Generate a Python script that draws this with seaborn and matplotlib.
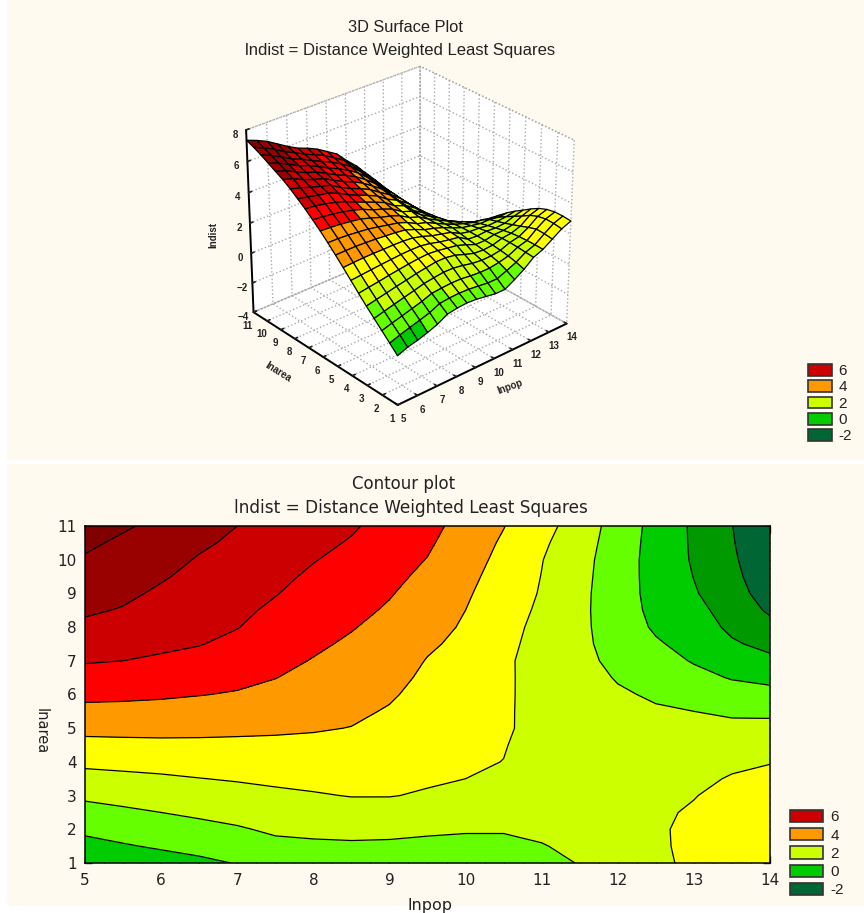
import seaborn as sns
import matplotlib
matplotlib.use("Agg")
import matplotlib.pyplot as plt
import numpy as np
from matplotlib.colors import ListedColormap, BoundaryNorm
from matplotlib.patches import Patch, Rectangle

lnpop = [5, 5.5, 6, 6.5, 7, 7.5, 8, 8.5, 9, 9.5, 10, 10.5, 11, 11.5, 12, 12.5, 13, 13.5, 14]
lnarea = [1, 1.5, 2, 2.5, 3, 3.5, 4, 4.5, 5, 5.5, 6, 6.5, 7, 7.5, 8, 8.5, 9, 9.5, 10, 10.5, 11]

# lndist, one list per lnarea value
area_1 = [-.8, -.55, -.4, -.2, .04, .4, .5, .55, .5, .4, .3, .3, .65, 1.05, 1.55, 1.8, 2.2, 2.6, 2.85]
area_1h = [-.3, -.08, .11, .29, .48, .78, .85, .88, .85, .78, .7, .7, .95, 1.22, 1.6, 1.82, 2.27, 2.68, 2.9]
area_2 = [.19, .38, .55, .73, .91, 1.14, 1.2, 1.24, 1.23, 1.15, 1.1, 1.1, 1.2, 1.35, 1.65, 1.82, 2.3, 2.7, 2.9]
area_2h = [.67, .84, 1.0, 1.16, 1.31, 1.48, 1.57, 1.65, 1.64, 1.54, 1.4, 1.33, 1.34, 1.44, 1.68, 1.8, 2.14, 2.6, 2.8]
area_3 = [1.16, 1.3, 1.43, 1.57, 1.69, 1.83, 1.93, 2.03, 2.03, 1.92, 1.7, 1.5, 1.45, 1.5, 1.68, 1.75, 1.95, 2.4, 2.6]
area_3h = [1.68, 1.78, 1.87, 1.98, 2.07, 2.16, 2.23, 2.27, 2.21, 2.1, 2.0, 1.78, 1.53, 1.53, 1.65, 1.66, 1.77, 2.08, 2.3]
area_4 = [2.21, 2.27, 2.33, 2.39, 2.44, 2.49, 2.51, 2.5, 2.39, 2.22, 2.1, 1.99, 1.6, 1.55, 1.6, 1.55, 1.6, 1.8, 1.95]
area_4h = [2.74, 2.78, 2.81, 2.82, 2.81, 2.82, 2.8, 2.74, 2.57, 2.35, 2.2, 2.04, 1.7, 1.56, 1.52, 1.43, 1.45, 1.5, 1.62]
area_5 = [3.25, 3.26, 3.26, 3.23, 3.19, 3.13, 3.07, 2.98, 2.75, 2.47, 2.3, 2.08, 1.8, 1.55, 1.42, 1.3, 1.3, 1.2, 1.25]
area_5h = [3.75, 3.74, 3.7, 3.63, 3.56, 3.43, 3.29, 3.16, 2.93, 2.59, 2.4, 2.09, 1.78, 1.5, 1.28, 1.1, 1.0, .87, .82]
area_6 = [4.22, 4.18, 4.12, 4.03, 3.93, 3.73, 3.51, 3.34, 3.1, 2.72, 2.5, 2.1, 1.77, 1.45, 1.12, .88, .62, .4, .28]
area_6h = [4.65, 4.59, 4.5, 4.38, 4.22, 4.02, 3.73, 3.52, 3.26, 2.84, 2.6, 2.11, 1.75, 1.38, .93, .62, .27, -.06, -.23]
area_7 = [5.07, 5.0, 4.88, 4.72, 4.5, 4.22, 3.96, 3.7, 3.42, 2.96, 2.7, 2.12, 1.72, 1.3, .72, .37, -.07, -.45, -.78]
area_7h = [5.44, 5.31, 5.16, 5.04, 4.78, 4.43, 4.14, 3.88, 3.58, 3.12, 2.8, 2.18, 1.76, 1.24, .58, .1, -.3, -.88, -1.27]
area_8 = [5.81, 5.62, 5.4, 5.21, 5.03, 4.63, 4.32, 4.05, 3.74, 3.3, 2.9, 2.25, 1.8, 1.22, .5, -.12, -.5, -1.2, -1.7]
area_8h = [6.13, 5.94, 5.63, 5.39, 5.19, 4.84, 4.5, 4.23, 3.9, 3.46, 3.0, 2.37, 1.86, 1.22, .45, -.24, -.72, -1.38, -2.15]
area_9 = [6.39, 6.18, 5.86, 5.57, 5.35, 5.04, 4.68, 4.4, 4.06, 3.63, 3.12, 2.5, 1.93, 1.25, .42, -.3, -.92, -1.55, -2.5]
area_9h = [6.66, 6.41, 6.09, 5.75, 5.52, 5.2, 4.86, 4.57, 4.22, 3.8, 3.25, 2.62, 1.98, 1.3, .43, -.33, -1.02, -1.68, -2.78]
area_10 = [6.92, 6.64, 6.3, 5.93, 5.68, 5.35, 5.04, 4.75, 4.38, 3.97, 3.38, 2.75, 2.03, 1.35, .45, -.35, -1.1, -1.8, -3.0]
area_10h = [7.15, 6.86, 6.55, 6.14, 5.84, 5.5, 5.22, 4.93, 4.54, 4.13, 3.5, 2.88, 2.15, 1.46, .5, -.33, -1.13, -1.9, -3.17]
area_11 = [7.35, 7.1, 6.8, 6.4, 6.0, 5.65, 5.4, 5.1, 4.7, 4.3, 3.63, 3.03, 2.3, 1.6, .55, -.3, -1.15, -1.97, -3.3]

band_edges = [-10, -2, -1, 0, 1, 2, 3, 4, 5, 6, 7, 10]
band_colors = ["#006633", "#009900", "#00CC00", "#66FF00", "#CCFF00", "#FFFF00",
               "#FF9900", "#FF0000", "#CC0000", "#990000", "#800000"]
line_levels = [-2, -1, 0, 1, 2, 3, 4, 5, 6, 7]

legend_labels = ["6", "4", "2", "0", "-2"]
legend_colors = ["#CC0000", "#FF9900", "#CCFF00", "#00CC00", "#006633"]

CREAM = "#FFFAF0"
W, H = 864, 913

sns.set_theme(style="ticks")
plt.rcParams["font.family"] = ["Liberation Sans", "DejaVu Sans"]
plt.rcParams["text.color"] = "#222222"

Z = np.array([area_1, area_1h, area_2, area_2h, area_3, area_3h, area_4, area_4h, area_5, area_5h, area_6,
              area_6h, area_7, area_7h, area_8, area_8h, area_9, area_9h, area_10, area_10h, area_11])
X, Y = np.meshgrid(lnpop, lnarea)
cmap = ListedColormap(sns.color_palette(band_colors))
norm = BoundaryNorm(band_edges, cmap.N)

fig = plt.figure(figsize=(W / 100, H / 100), dpi=100, facecolor="white")
fig.patches.append(Rectangle((7 / W, 1 - 460 / H), (W - 7) / W, 460 / H, transform=fig.transFigure,
                             facecolor=CREAM, edgecolor="none", zorder=-5))
fig.patches.append(Rectangle((7 / W, 1 - 906 / H), (W - 7) / W, 442 / H, transform=fig.transFigure,
                             facecolor=CREAM, edgecolor="none", zorder=-5))

# surface
ax3 = fig.add_axes([159 / W, 1 - 434 / H, 490 / W, 400 / H], projection="3d")
ax3.patch.set_alpha(0)
ax3.plot_surface(X, Y, Z, cmap=cmap, norm=norm, rstride=1, cstride=1, edgecolor="black",
                 linewidth=0.9, shade=False, antialiased=True)
ax3.set_xlim(5, 14)
ax3.set_ylim(1, 11)
ax3.set_zlim(-4, 8)
ax3.set_xticks(range(5, 15))
ax3.set_yticks(range(1, 12))
ax3.set_zticks(range(-4, 9, 2))
ax3.set_box_aspect((1, 1, 0.92), zoom=0.93)
ax3.view_init(elev=29, azim=-131)
ax3.set_proj_type("persp", focal_length=1.0)
for axis in (ax3.xaxis, ax3.yaxis, ax3.zaxis):
    axis.set_pane_color((1, 1, 1, 1))
    axis.pane.set_edgecolor("#aaaaaa")
    axis.pane.set_linestyle(":")
    axis.line.set_color("black")
    axis.line.set_linewidth(1.4)
    axis._axinfo["grid"].update(color="#aaaaaa", linestyle=":", linewidth=1.0)
    axis._axinfo["tick"].update(inward_factor=0.0, outward_factor=0.2)
ax3.tick_params(labelsize=7, pad=-3, colors="#222222")
for lab in ax3.get_xticklabels() + ax3.get_yticklabels() + ax3.get_zticklabels():
    lab.set_fontweight("bold")
fig.text(510 / W, 1 - 387 / H, "lnpop", ha="center", va="center", fontsize=7, fontweight="bold", rotation=20)
fig.text(278 / W, 1 - 372 / H, "lnarea", ha="center", va="center", fontsize=7, fontweight="bold", rotation=-32)
fig.text(213 / W, 1 - 235 / H, "lndist", ha="center", va="center", fontsize=7, fontweight="bold", rotation=90)
fig.text(405 / W, 1 - 27 / H, "3D Surface Plot", ha="center", va="center", fontsize=11.8)
fig.text(400 / W, 1 - 50 / H, "lndist = Distance Weighted Least Squares", ha="center", va="center", fontsize=12)

# contour
ax = fig.add_axes([85 / W, 1 - 863 / H, 685 / W, 337 / H])
ax.contourf(X, Y, Z, levels=band_edges, cmap=cmap, norm=norm)
ax.contour(X, Y, Z, levels=line_levels, colors="black", linewidths=0.9, linestyles="solid")
ax.set_xlim(5, 14)
ax.set_ylim(1, 11)
ax.set_xticks(range(5, 15))
ax.set_yticks(range(1, 12))
ax.set_xticks(np.arange(5, 14.01, 0.25), minor=True)
ax.set_yticks(np.arange(1, 11.01, 0.25), minor=True)
ax.tick_params(which="major", direction="in", length=5, width=1, top=True, right=True,
               labelsize=11, colors="#222222")
ax.tick_params(which="minor", direction="in", length=3, width=0.8, top=True, right=True)
ax.tick_params(axis="x", which="major", pad=7)
ax.tick_params(axis="y", which="major", pad=6)
for lab in ax.get_xticklabels() + ax.get_yticklabels():
    lab.set_family("DejaVu Sans")
for spine in ax.spines.values():
    spine.set_linewidth(1.1)
    spine.set_color("black")
fig.text(404 / W, 1 - 484 / H, "Contour plot", ha="center", va="center", fontsize=12, family="DejaVu Sans")
fig.text(411 / W, 1 - 508 / H, "lndist = Distance Weighted Least Squares", ha="center", va="center",
         fontsize=12.2, family="DejaVu Sans")
fig.text(430 / W, 1 - 905 / H, "lnpop", ha="center", va="center", fontsize=11.5, family="DejaVu Sans")
fig.text(41 / W, 1 - 731 / H, "lnarea", ha="center", va="center", fontsize=10.5, rotation=-90,
         family="DejaVu Sans")

handles = [Patch(facecolor=c, edgecolor="#333333", linewidth=1.2) for c in legend_colors]
fig.legend(handles, legend_labels, loc="upper left", bbox_to_anchor=(808 / W, 1 - 364 / H), frameon=False,
           fontsize=11, handlelength=1.6, handleheight=0.8, labelspacing=0.14, handletextpad=0.4,
           borderpad=0, borderaxespad=0)
fig.legend(handles, legend_labels, loc="upper left", bbox_to_anchor=(790 / W, 1 - 810 / H), frameon=False,
           fontsize=11, handlelength=2.15, handleheight=0.85, labelspacing=0.25, handletextpad=0.5,
           borderpad=0, borderaxespad=0)

fig.savefig("out.png", dpi=100, facecolor=fig.get_facecolor())
